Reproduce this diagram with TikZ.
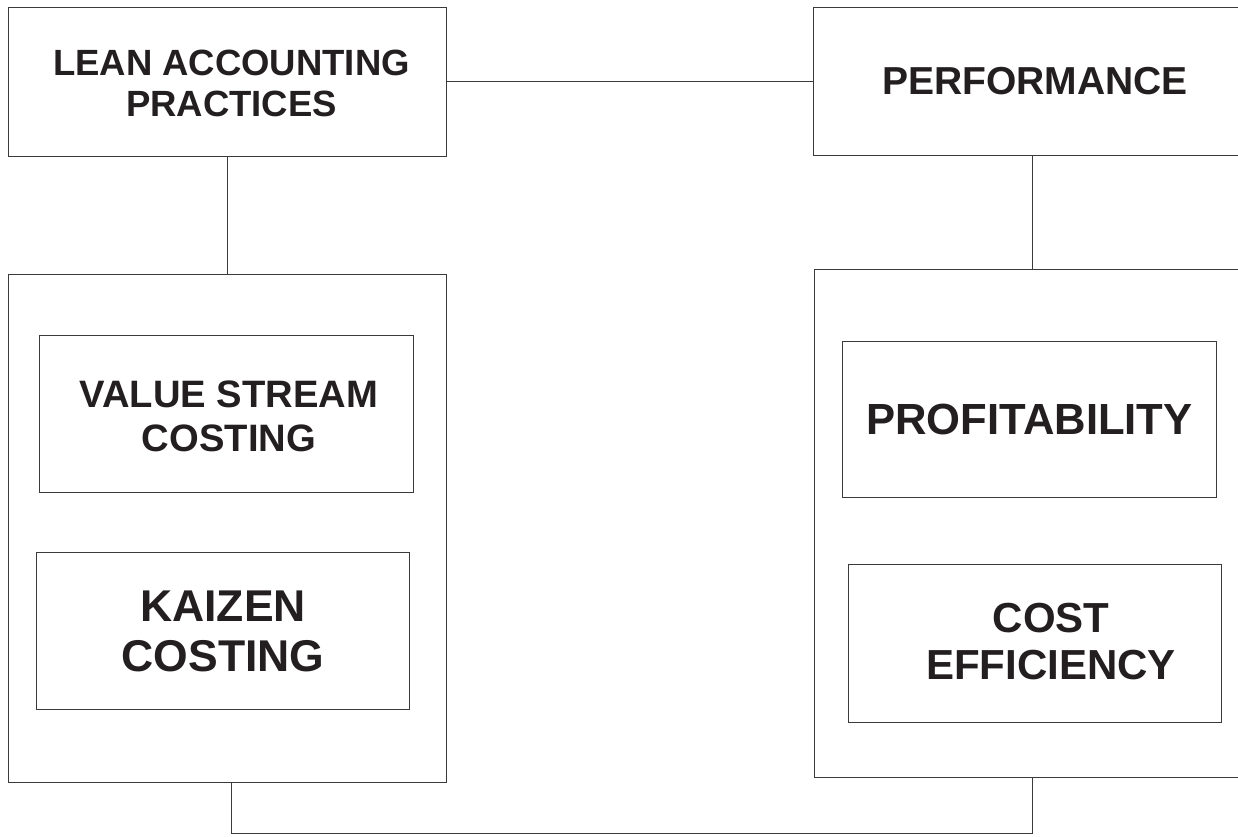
\documentclass[tikz,border=0pt]{standalone}
\usepackage{fontspec}
\setmainfont{Liberation Sans}
\definecolor{ink}{HTML}{231F20}
\definecolor{edge}{HTML}{3A3A3A}
\begin{document}
\begin{tikzpicture}[x=1pt,y=-1pt,
  box/.style={draw=edge,line width=1pt,rectangle,inner sep=0pt},
  label/.style={text=ink,align=center,inner sep=0pt},
  link/.style={draw=edge,line width=1pt},
  fA/.style={font=\fontsize{36.5}{40.5}\selectfont\bfseries},
  fV/.style={font=\fontsize{38.2}{44}\selectfont\bfseries},
  fB/.style={font=\fontsize{39}{42}\selectfont\bfseries},
  fC/.style={font=\fontsize{44.5}{50}\selectfont\bfseries},
  fP/.style={font=\fontsize{43.6}{48}\selectfont\bfseries},
  fD/.style={font=\fontsize{42}{47}\selectfont\bfseries}]
\useasboundingbox (0,0) rectangle (1238,836);
\fill[white] (0,0) rectangle (1238,836);

% top row
\node[box,minimum width=438pt,minimum height=149pt] (lean) at (227,81.5) {};
\node[label,fA] (leantxt) at (231.5,83.5) {LEAN ACCOUNTING\\PRACTICES};
\node[box,minimum width=444pt,minimum height=148pt] (perf) at (1035,81) {};
\node[label,fB] (perftxt) at (1035,81) {PERFORMANCE};

% left group
\node[box,minimum width=438pt,minimum height=508pt] (lgroup) at (227,528) {};
\node[box,minimum width=374pt,minimum height=157pt] (vsc) at (226,413.5) {};
\node[label,fV] (vsctxt) at (229,416) {VALUE STREAM\\COSTING};
\node[box,minimum width=373pt,minimum height=157pt] (kaizen) at (222.5,630.5) {};
\node[label,fC] (kaizentxt) at (223,631) {KAIZEN\\COSTING};

% right group
\node[box,minimum width=436pt,minimum height=508pt] (rgroup) at (1032,523) {};
\node[box,minimum width=374pt,minimum height=156pt] (profit) at (1029,419) {};
\node[label,fP] (profittxt) at (1029.5,419.5) {PROFITABILITY};
\node[box,minimum width=373pt,minimum height=158pt] (costeff) at (1034.5,643) {};
\node[label,fD] (costefftxt) at (1051,641.5) {COST\\EFFICIENCY};

% connectors
\draw[link] (lean.east) -- (lean.east -| perf.west);
\draw[link] (lean.south) -- (lgroup.north);
\draw[link] (1032,155) coordinate (ptop) -- (ptop |- rgroup.north);
\coordinate (lbot) at (231,782);
\coordinate (rbot) at (1032,777);
\coordinate (base) at (231,833);
\draw[link] (lbot) -- (base) -| (rbot);
\end{tikzpicture}
\end{document}
